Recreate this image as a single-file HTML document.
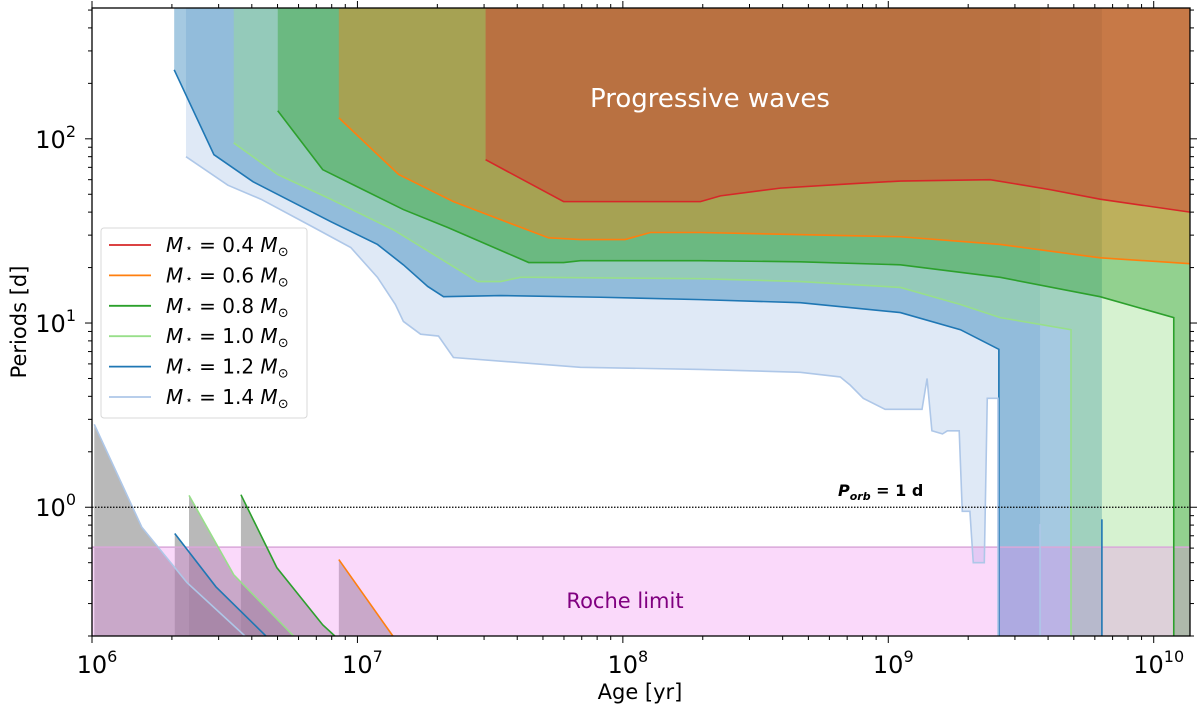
<!DOCTYPE html>
<html><head><meta charset="utf-8">
<style>
html,body{margin:0;padding:0;background:#fff;}
svg{display:block;font-family:"DejaVu Sans","Liberation Sans",sans-serif;}
</style></head>
<body>
<svg id="chart" width="1200" height="708" viewBox="0 0 1200 708" xmlns="http://www.w3.org/2000/svg">
<g id="fills"></g>
<g id="grays"></g>
<g id="roche"></g>
<g id="lines"></g>
<g id="axes"></g>
</svg>
<script>
// ---- data ----
const masses = ["0.4","0.6","0.8","1.0","1.2","1.4"];
const lineColors = ["#d62728","#ff7f0e","#2ca02c","#98df8a","#1f77b4","#aec7e8"];
const age14 = [2.26e6,3.25e6,4.33e6,6.85e6,9.44e6,1.19e7,1.39e7,1.49e7,1.73e7,2.02e7,2.30e7,6.92e7,1.96e8,4.66e8,6.59e8,7.19e8,8.05e8,9.73e8,1.34e9,1.40e9,1.46e9,1.60e9,1.67e9,1.85e9,1.90e9,2.03e9,2.09e9,2.30e9,2.36e9,2.59e9];
const per14 = [80,56,47,33,25.7,17.7,12.6,10.2,8.7,8.5,6.5,5.75,5.6,5.4,5.1,4.6,3.9,3.4,3.4,5.0,2.6,2.5,2.6,2.6,0.95,0.95,0.5,0.5,3.9,3.9];
const age12 = [2.04e6,2.88e6,4.04e6,7.94e6,1.19e7,1.49e7,1.84e7,2.11e7,3.46e7,8.24e7,1.96e8,4.66e8,1.11e9,1.87e9,2.61e9];
const per12 = [237,82,58.5,35.5,26.7,20.7,15.8,13.9,14.1,13.8,13.4,12.9,11.4,9.2,7.2];
const age10 = [3.42e6,5.01e6,7.94e6,1.37e7,2.84e7,3.46e7,4.12e7,4.61e7,1.96e8,4.66e8,1.11e9,1.87e9,2.64e9,4.88e9];
const per10 = [95,64,47,32,16.8,16.8,17.7,17.7,17.4,16.8,15.6,12.6,10.7,9.2];
const age08 = [5.01e6,7.40e6,1.05e7,1.49e7,2.19e7,4.42e7,5.98e7,6.92e7,1.96e8,4.66e8,1.11e9,2.64e9,6.28e9,1.19e10];
const per08 = [142,68,53,41.3,33,21.3,21.3,21.8,21.8,21.5,20.7,17.7,13.9,10.7];
const age06 = [8.51e6,1.43e7,2.30e7,3.46e7,5.25e7,6.92e7,1.02e8,1.27e8,1.96e8,1.11e9,2.64e9,6.28e9,1.37e10];
const per06 = [130,64,45.6,36.4,29,28.4,28.4,31,31,29.4,26.7,22.6,21];
const age04 = [3.04e7,5.98e7,1.96e8,2.33e8,3.92e8,7.19e8,1.11e9,2.42e9,4.07e9,6.28e9,1.37e10];
const per04 = [77,45.6,45.6,49,54,57,59,60,53,47,40];
// column ends (age where the full-height band stops)
const colEnd = [null,null,1.37e10,1.37e10,6.38e9,3.73e9];
// early (pre-main-sequence) tracks
const eAge14=[1.02e6,1.54e6,2.28e6,3.77e6], ePer14=[2.82,0.78,0.39,0.2];
const eAge12=[2.05e6,2.93e6,4.52e6], ePer12=[0.72,0.37,0.2];
const eAge10=[2.32e6,3.42e6,5.75e6], ePer10=[1.16,0.43,0.2];
const eAge08=[3.64e6,4.97e6,7.40e6,8.22e6], ePer08=[1.17,0.47,0.23,0.2];
const eAge06=[8.51e6,1.36e7], ePer06=[0.52,0.2];
// tails
const tailAge = [6.38e9,3.73e9], tailPer=[0.86,0.81];
const rocheLimit = 0.607;
const porb = 1.0;
const xTicks = [6,7,8,9,10];
const yTicks = [0,1,2];

// ---- scales ----
const L=92,R=1190,T=8,B=636;
const xMinL=6, xMaxL=Math.log10(1.37e10), yMinL=Math.log10(0.2), yMaxL=Math.log10(513);
const X=a=>L+(Math.log10(a)-xMinL)/(xMaxL-xMinL)*(R-L);
const Y=p=>B-(Math.log10(p)-yMinL)/(yMaxL-yMinL)*(B-T);
const NS="http://www.w3.org/2000/svg";
function mk(tag,attrs,parent){const e=document.createElementNS(NS,tag);for(const k in attrs)e.setAttribute(k,attrs[k]);parent.appendChild(e);return e;}
const fills=document.getElementById('fills'),grays=document.getElementById('grays'),lines=document.getElementById('lines'),axes=document.getElementById('axes'),roche=document.getElementById('roche');

const series=[[age04,per04],[age06,per06],[age08,per08],[age10,per10],[age12,per12],[age14,per14]];
for(let i=5;i>=0;i--){
  const [a,p]=series[i];
  let pts=[[X(a[0]),T]];
  for(let k=0;k<a.length;k++)pts.push([X(a[k]),Y(p[k])]);
  const last=a[a.length-1];
  if(colEnd[i]){pts.push([X(last),B]);pts.push([X(colEnd[i]),B]);pts.push([X(colEnd[i]),T]);}
  else pts.push([X(last),T]);
  const el=mk('polygon',{points:pts.map(q=>q.join(',')).join(' '),fill:lineColors[i],'fill-opacity':0.4},fills);
  
  
}
const early=[[eAge06,ePer06,1],[eAge08,ePer08,2],[eAge10,ePer10,3],[eAge12,ePer12,4],[eAge14,ePer14,5]];
early.forEach(([a,p,ci])=>{
  let pts=[[X(a[0]),B]];
  for(let k=0;k<a.length;k++)pts.push([X(a[k]),Y(p[k])]);
  const g=mk('polygon',{points:pts.map(q=>q.join(',')).join(' '),fill:'#808080','fill-opacity':0.55},grays);
  
  
});
const rb=mk('rect',{x:L,y:Y(rocheLimit),width:R-L,height:B-Y(rocheLimit),fill:'#ee82ee','fill-opacity':0.3},roche);


mk('line',{x1:L,x2:R,y1:Y(rocheLimit),y2:Y(rocheLimit),stroke:'#d9a8d9','stroke-width':1.5},roche);
const rt=mk('text',{x:625,y:608,'text-anchor':'middle','font-size':21,fill:'#800080'},roche);
rt.textContent='Roche limit';


series.forEach(([a,p],i)=>{
  let pts=a.map((v,k)=>[X(v),Y(p[k])]);
  if(colEnd[i])pts.push([X(a[a.length-1]),B]);
  const el=mk('polyline',{points:pts.map(q=>q.join(',')).join(' '),fill:'none',stroke:lineColors[i],'stroke-width':1.6},lines);
  
  
});
early.forEach(([a,p,ci])=>{
  const el=mk('polyline',{points:a.map((v,k)=>X(v)+','+Y(p[k])).join(' '),fill:'none',stroke:lineColors[ci],'stroke-width':1.6},lines);
  
  
});
tailAge.forEach((a,k)=>{
  const el=mk('line',{x1:X(a),x2:X(a),y1:Y(tailPer[k]),y2:B,stroke:lineColors[4+k],'stroke-width':1.6},lines);
  
  
});
const pl=mk('line',{x1:L,x2:R,y1:Y(porb),y2:Y(porb),stroke:'#000','stroke-width':1.3,'stroke-dasharray':'1.5,1.5'},lines);


const pt=mk('text',{x:838,y:496,'font-size':16,'font-weight':'bold',fill:'#000'},lines);
pt.innerHTML='<tspan font-style="italic">P</tspan><tspan font-style="italic" font-size="11" dy="4">orb</tspan><tspan dy="-4"> = 1 d</tspan>';


const pw=mk('text',{x:710,y:107,'text-anchor':'middle','font-size':26,fill:'#fff'},lines);
pw.textContent='Progressive waves';



const fr=mk('rect',{x:L,y:T,width:R-L,height:B-T,fill:'none',stroke:'#000','stroke-width':1.3},axes);


for(let d=6;d<=10;d++){
  for(let m=1;m<10;m++){
    const v=m*Math.pow(10,d); if(v>1.37e10)break;
    const x=X(v), len=m===1?7:4;
    mk('line',{x1:x,x2:x,y1:B,y2:B+len,stroke:'#000','stroke-width':1},axes);
    mk('line',{x1:x,x2:x,y1:T,y2:T-len,stroke:'#000','stroke-width':1},axes);
  }
}
xTicks.forEach(d=>{
  const t=mk('text',{x:X(Math.pow(10,d))+5,y:673,'text-anchor':'middle','font-size':24,fill:'#000'},axes);
  t.innerHTML='10<tspan font-size="16" dy="-11">'+d+'</tspan>';
  
  
});
for(let d=-1;d<=2;d++){
  for(let m=1;m<10;m++){
    const v=m*Math.pow(10,d); if(v<0.2||v>513)continue;
    const y=Y(v), len=m===1?7:4;
    mk('line',{x1:L,x2:L-len,y1:y,y2:y,stroke:'#000','stroke-width':1},axes);
    mk('line',{x1:R,x2:R+len,y1:y,y2:y,stroke:'#000','stroke-width':1},axes);
  }
}
yTicks.forEach(d=>{
  const t=mk('text',{x:76,y:Y(Math.pow(10,d))+9,'text-anchor':'end','font-size':24,fill:'#000'},axes);
  t.innerHTML='10<tspan font-size="16" dy="-11">'+d+'</tspan>';
  
  
});
const xl=mk('text',{x:640,y:699,'text-anchor':'middle','font-size':21,fill:'#000'},axes);
xl.textContent='Age [yr]';


const yl=mk('text',{x:0,y:0,'text-anchor':'middle','font-size':21,fill:'#000',transform:'translate(26,322) rotate(-90)'},axes);
yl.textContent='Periods [d]';



const lg=mk('g',{},axes);


mk('rect',{x:101,y:228,width:206,height:190,rx:3,fill:'#fff','fill-opacity':0.85,stroke:'#d8d8d8','stroke-width':1},lg);
masses.forEach((m,i)=>{
  const y=245+i*30.4;
  const e=mk('g',{},lg);
  
  
  mk('line',{x1:109,x2:151,y1:y,y2:y,stroke:lineColors[i],'stroke-width':1.8},e);
  const t=mk('text',{x:166,y:y+7,'font-size':20,fill:'#000'},e);
  t.innerHTML='<tspan font-style="italic">M</tspan><tspan font-size="12" dx="2">⋆</tspan> = '+m+' <tspan font-style="italic">M</tspan><tspan font-size="13" dy="4">⊙</tspan>';
});
</script>
</body></html>
